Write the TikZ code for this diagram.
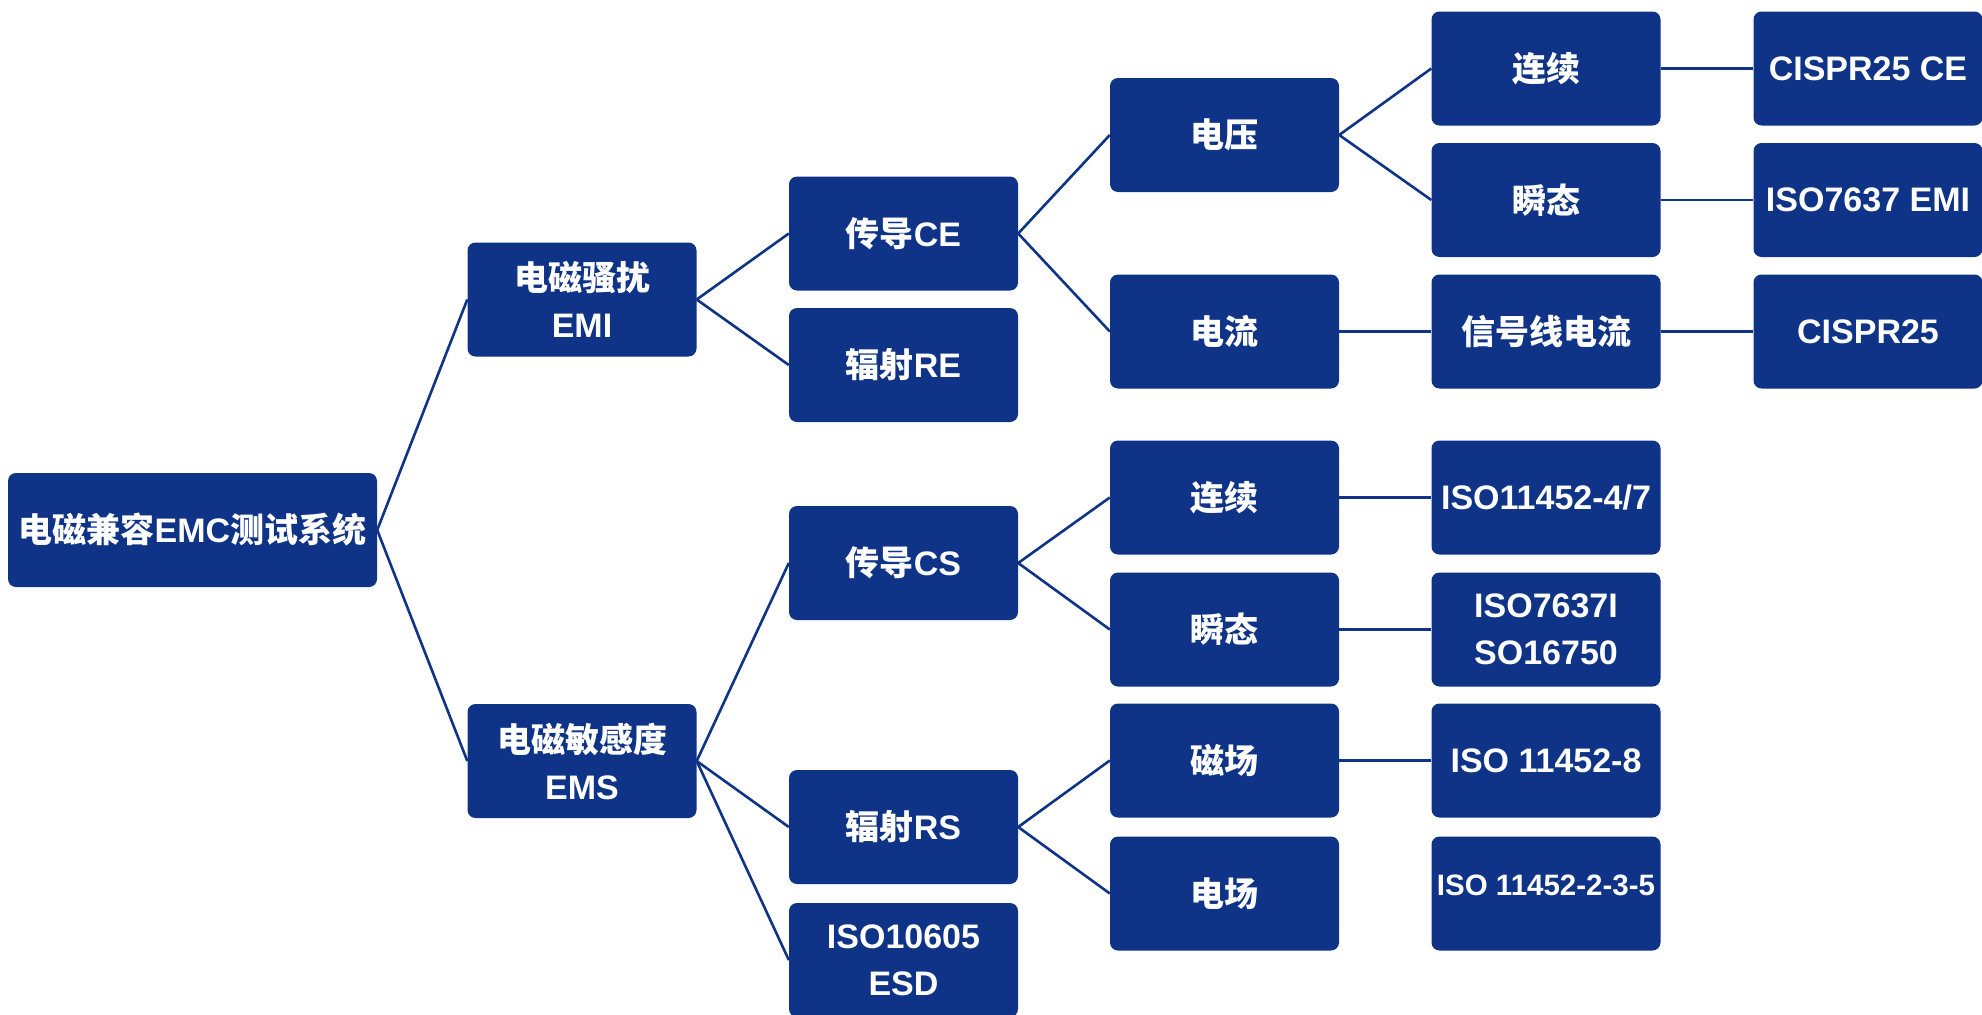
\documentclass[tikz,border=0pt]{standalone}
\usepackage{fontspec}
\setmainfont{Liberation Sans}
\newfontfamily\zhfont{Noto Sans CJK SC}
\newcommand\zh[1]{{\zhfont\bfseries #1}}
\definecolor{emcblue}{RGB}{14,51,135}
\begin{document}
\begin{tikzpicture}[x=1pt,y=-1pt,
  box/.style={fill=emcblue, rounded corners=8pt, minimum width=229pt, minimum height=114pt,
    text=white, font=\fontsize{34}{47}\selectfont\bfseries, align=center, inner sep=0pt},
  link/.style={draw=emcblue, line width=2.6pt}]
\useasboundingbox (0,0) rectangle (1982,1015);
% level 1
\node[box, minimum width=369pt] (root) at (192.5,530) {\zh{电磁兼容}EMC\zh{测试系统}};
% level 2
\node[box] (emi) at (582,299.5) {\zh{电磁骚扰}\\EMI};
\node[box] (ems) at (582,761) {\zh{电磁敏感度}\\EMS};
% level 3
\node[box] (ce) at (903.5,233.5) {\zh{传导}CE};
\node[box] (re) at (903.5,365) {\zh{辐射}RE};
\node[box] (cs) at (903.5,563) {\zh{传导}CS};
\node[box] (rs) at (903.5,827) {\zh{辐射}RS};
\node[box] (esd) at (903.5,960) {ISO10605\\ESD};
% level 4
\node[box] (volt) at (1224.5,135) {\zh{电压}};
\node[box] (curr) at (1224.5,331.5) {\zh{电流}};
\node[box] (cscont) at (1224.5,497.5) {\zh{连续}};
\node[box] (cstran) at (1224.5,629.5) {\zh{瞬态}};
\node[box] (mag) at (1224.5,760.5) {\zh{磁场}};
\node[box] (elec) at (1224.5,893.5) {\zh{电场}};
% level 5
\node[box] (cecont) at (1546,68.5) {\zh{连续}};
\node[box] (cetran) at (1546,200) {\zh{瞬态}};
\node[box] (sig) at (1546,331.5) {\zh{信号线电流}};
\node[box] (iso47) at (1546,497.5) {ISO11452-4/7};
\node[box] (iso7637i) at (1546,629.5) {ISO7637I\\SO16750};
\node[box] (iso8) at (1546,760.5) {ISO 11452-8};
\node[box] (iso235) at (1546,893.5) {\fontsize{29.5}{35}\selectfont\raisebox{16pt}{ISO 11452-2-3-5}};
% level 6
\node[box] (cispr) at (1868,68.5) {CISPR25 CE};
\node[box] (iso7637) at (1868,200) {ISO7637 EMI};
\node[box] (cispr25) at (1868,331.5) {CISPR25};
% connectors
\draw[link] (root.east) -- (emi.west);
\draw[link] (root.east) -- (ems.west);
\draw[link] (emi.east) -- (ce.west);
\draw[link] (emi.east) -- (re.west);
\draw[link] (ce.east) -- (volt.west);
\draw[link] (ce.east) -- (curr.west);
\draw[link] (volt.east) -- (cecont.west);
\draw[link] (volt.east) -- (cetran.west);
\draw[link] (cecont.east) -- (cispr.west);
\draw[link] (cetran.east) -- (iso7637.west);
\draw[link] (curr.east) -- (sig.west);
\draw[link] (sig.east) -- (cispr25.west);
\draw[link] (ems.east) -- (cs.west);
\draw[link] (ems.east) -- (rs.west);
\draw[link] (ems.east) -- (esd.west);
\draw[link] (cs.east) -- (cscont.west);
\draw[link] (cs.east) -- (cstran.west);
\draw[link] (cscont.east) -- (iso47.west);
\draw[link] (cstran.east) -- (iso7637i.west);
\draw[link] (rs.east) -- (mag.west);
\draw[link] (rs.east) -- (elec.west);
\draw[link] (mag.east) -- (iso8.west);
\end{tikzpicture}
\end{document}
